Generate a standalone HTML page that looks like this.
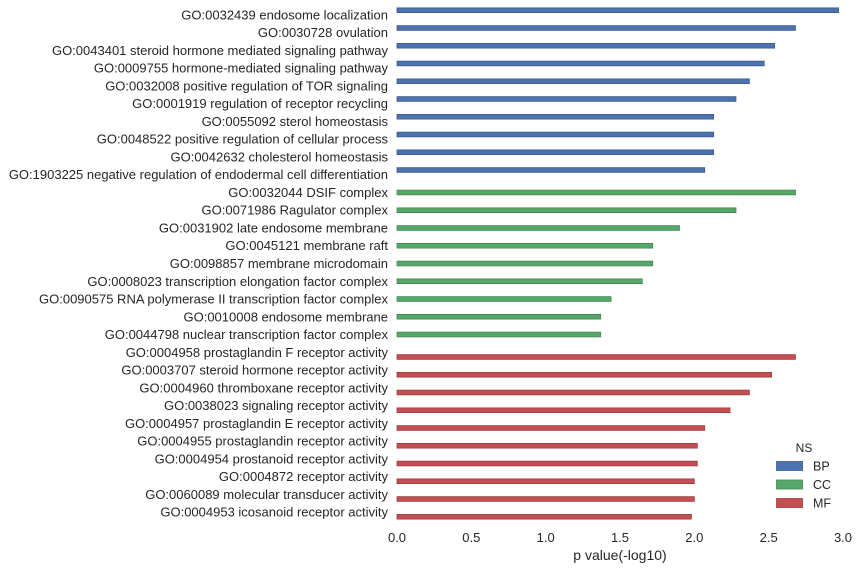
<!DOCTYPE html>
<html><head><meta charset="utf-8"><style>
html,body{margin:0;padding:0;background:#fff;}
svg{display:block;font-family:"Liberation Sans",sans-serif;}
</style></head><body>
<svg id="chart" width="859" height="570" xmlns="http://www.w3.org/2000/svg"></svg>
<script>
const categories=["GO:0032439 endosome localization","GO:0030728 ovulation","GO:0043401 steroid hormone mediated signaling pathway","GO:0009755 hormone-mediated signaling pathway","GO:0032008 positive regulation of TOR signaling","GO:0001919 regulation of receptor recycling","GO:0055092 sterol homeostasis","GO:0048522 positive regulation of cellular process","GO:0042632 cholesterol homeostasis","GO:1903225 negative regulation of endodermal cell differentiation","GO:0032044 DSIF complex","GO:0071986 Ragulator complex","GO:0031902 late endosome membrane","GO:0045121 membrane raft","GO:0098857 membrane microdomain","GO:0008023 transcription elongation factor complex","GO:0090575 RNA polymerase II transcription factor complex","GO:0010008 endosome membrane","GO:0044798 nuclear transcription factor complex","GO:0004958 prostaglandin F receptor activity","GO:0003707 steroid hormone receptor activity","GO:0004960 thromboxane receptor activity","GO:0038023 signaling receptor activity","GO:0004957 prostaglandin E receptor activity","GO:0004955 prostaglandin receptor activity","GO:0004954 prostanoid receptor activity","GO:0004872 receptor activity","GO:0060089 molecular transducer activity","GO:0004953 icosanoid receptor activity"];
const namespaces=["BP","BP","BP","BP","BP","BP","BP","BP","BP","BP","CC","CC","CC","CC","CC","CC","CC","CC","CC","MF","MF","MF","MF","MF","MF","MF","MF","MF","MF"];
const values=[2.97,2.68,2.54,2.47,2.37,2.28,2.13,2.13,2.13,2.07,2.68,2.28,1.90,1.72,1.72,1.65,1.44,1.37,1.37,2.68,2.52,2.37,2.24,2.07,2.02,2.02,2.00,2.00,1.98];
const hueOrder=["BP","CC","MF"];
const xTicks=[0,0.5,1.0,1.5,2.0,2.5,3.0];
const colors={BP:"#4c72b0",CC:"#55a868",MF:"#c44e52"};
const edges={BP:"#3d5b8d",CC:"#448653",MF:"#9d3e42"};
const NS="http://www.w3.org/2000/svg";
const svg=document.getElementById("chart");
const x0=397,x1=843,xMax=3.0;
const yTop=6.1,yBot=520.9;
const step=(yBot-yTop)/categories.length;
const xs=v=>x0+(x1-x0)*v/xMax;
const yc=i=>yTop+step*(i+0.5);
function mk(tag,attrs){const e=document.createElementNS(NS,tag);for(const k in attrs)e.setAttribute(k,attrs[k]);svg.appendChild(e);return e;}
const bw=step*0.8/3;
categories.forEach((c,i)=>{
  const t=mk("text",{x:388,y:yc(i)+4.5,"text-anchor":"end","font-size":"13",fill:"#262626"});
  t.textContent=c;
  
  
  const ns=namespaces[i];
  const h=hueOrder.indexOf(ns)-1;
  const cy=yc(i)+h*bw;
  const r=mk("rect",{x:x0,y:cy-bw/2,width:xs(values[i])-x0,height:bw,fill:colors[ns],stroke:edges[ns],"stroke-width":"0.8"});
  
  
});
xTicks.forEach(v=>{
  const t=mk("text",{x:xs(v),y:542,"text-anchor":"middle","font-size":"13",fill:"#262626"});
  t.textContent=v.toFixed(1);
  
  
});
const xl=mk("text",{x:620,y:560,"text-anchor":"middle","font-size":"14",fill:"#262626"});
xl.textContent="p value(-log10)";


const lt=mk("text",{x:804,y:452,"text-anchor":"middle","font-size":"12",fill:"#262626"});
lt.textContent="NS";


hueOrder.forEach((h,k)=>{
  const y=466+k*18.5;
  const r=mk("rect",{x:776.5,y:y-4.5,width:26,height:9,fill:colors[h],stroke:edges[h],"stroke-width":"0.8"});
  
  
  const t=mk("text",{x:813,y:y+4.5,"font-size":"12.5",fill:"#262626"});
  t.textContent=h;
  
  
});
</script>
</body></html>
